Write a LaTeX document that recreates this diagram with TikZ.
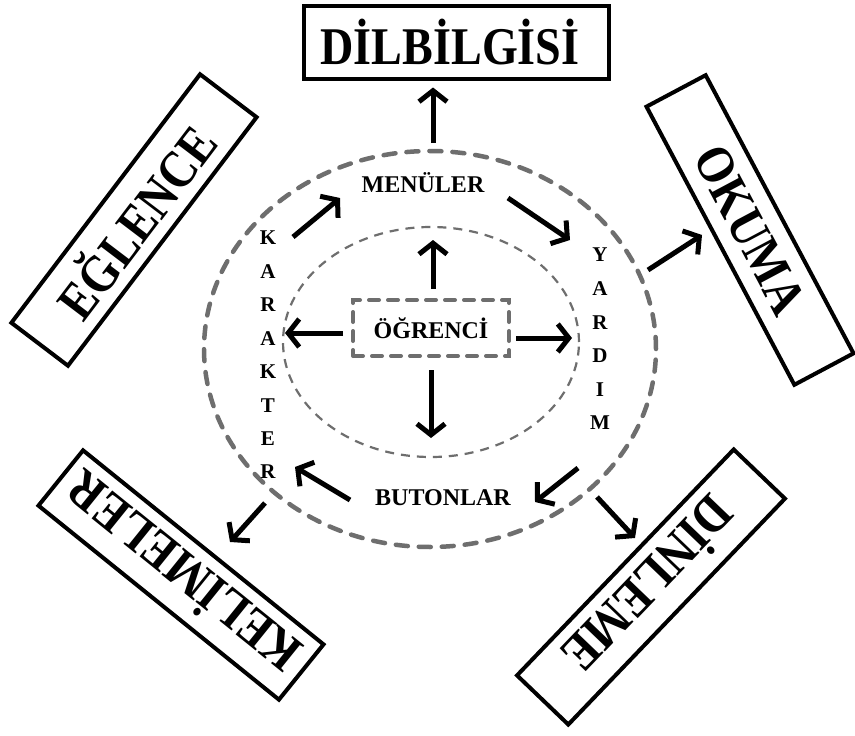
\documentclass[tikz,border=0pt]{standalone}
\usepackage{fontspec}
\setmainfont{Liberation Serif}
\usepackage{graphicx}
\usetikzlibrary{arrows.meta}
\definecolor{dgray}{HTML}{6E6E6E}
\newcommand\BigLbl[1]{\scalebox{0.87}[1]{\fontsize{53}{60}\selectfont\bfseries #1}}
\tikzset{
  bigbox/.style={draw=black, line width=4pt, minimum height=71pt, inner sep=0pt},
  arr/.style={line width=5pt, -{Straight Barb[length=11pt,width=28pt]}},
  outring/.style={draw=dgray, line width=4.5pt, dash pattern=on 12pt off 11pt, line cap=round},
  inring/.style={draw=dgray, line width=2.2pt, dash pattern=on 9pt off 7pt},
  centerbox/.style={draw=dgray, line width=4pt, dash pattern=on 10pt off 9pt, line cap=round,
    minimum width=156pt, minimum height=56pt, font=\fontsize{24}{26}\selectfont\bfseries},
  midlbl/.style={font=\fontsize{24}{26}\selectfont\bfseries, inner sep=1pt},
  ltr/.style={font=\fontsize{21}{24}\selectfont\bfseries, inner sep=0pt}
}
\begin{document}
\begin{tikzpicture}[x=1pt,y=-1pt]
\useasboundingbox (0,0) rectangle (855,736);
\fill[white] (0,0) rectangle (855,736);

% outer labelled boxes
\node[bigbox, minimum width=305pt, minimum height=73pt] (dil) at (456,42) {\BigLbl{DİLBİLGİSİ}\hspace*{12pt}};
\node[bigbox, minimum width=312pt, rotate=52.8] (egl) at (134,220) {\BigLbl{EĞLENCE}};
\node[bigbox, minimum width=315pt, minimum height=67pt, rotate=-62] (oku) at (750,230) {\BigLbl{OKUMA}};
\node[bigbox, minimum width=313pt, rotate=226.2] (din) at (651,587) {\BigLbl{DİNLEME}};
\node[bigbox, minimum width=309pt, rotate=141.1] (kel) at (181,575) {\BigLbl{KELİMELER}};

% rings
\draw[outring] (430,349) ellipse [x radius=226pt, y radius=198pt];
\draw[inring] (431,342) ellipse [x radius=148pt, y radius=115pt];

% centre
\node[centerbox] (ogr) at (431,328) {ÖĞRENCİ};

% ring labels
\node[midlbl] (menu) at (423,183) {MENÜLER};
\node[midlbl] (buton) at (443,498) {BUTONLAR};
\foreach \c [count=\i] in {K,A,R,A,K,T,E,R}
  \node[ltr] (k\i) at (268,{238+33.43*(\i-1)}) {\c};
\foreach \c [count=\i] in {Y,A,R,D,I,M}
  \node[ltr] (y\i) at (600,{255+33.6*(\i-1)}) {\c};

% arrow end points
\coordinate (eup) at (433,240);
\coordinate (edown) at (431,438);
\coordinate (eleft) at (285,333);
\coordinate (eright) at (572,338);
\coordinate (km0) at (293,237);  \coordinate (km1) at (340,198);
\coordinate (my0) at (508,198);  \coordinate (my1) at (570,240);
\coordinate (yb0) at (578,468);  \coordinate (yb1) at (535,502);
\coordinate (bk0) at (350,500);  \coordinate (bk1) at (295,467);
\coordinate (od0) at (433,143);
\coordinate (oo0) at (648,270);  \coordinate (oo1) at (702,235);
\coordinate (odn0) at (597,497); \coordinate (odn1) at (635,538);
\coordinate (okl0) at (265,503); \coordinate (okl1) at (230,542);

% arrows from the centre
\draw[arr, shorten <=9pt] (ogr.north -| eup) -- (eup);
\draw[arr, shorten <=12pt] (ogr.south) -- (edown);
\draw[arr, shorten <=8pt] (ogr.west |- eleft) -- (eleft);
\draw[arr, shorten <=5pt] (ogr.east |- eright) -- (eright);

% arrows round the ring
\draw[arr] (km0) -- (km1);
\draw[arr] (my0) -- (my1);
\draw[arr] (yb0) -- (yb1);
\draw[arr] (bk0) -- (bk1);

% arrows to the outer boxes
\draw[arr, shorten >=7pt] (od0) -- (dil.south -| od0);
\draw[arr] (oo0) -- (oo1);
\draw[arr] (odn0) -- (odn1);
\draw[arr] (okl0) -- (okl1);
\end{tikzpicture}
\end{document}
